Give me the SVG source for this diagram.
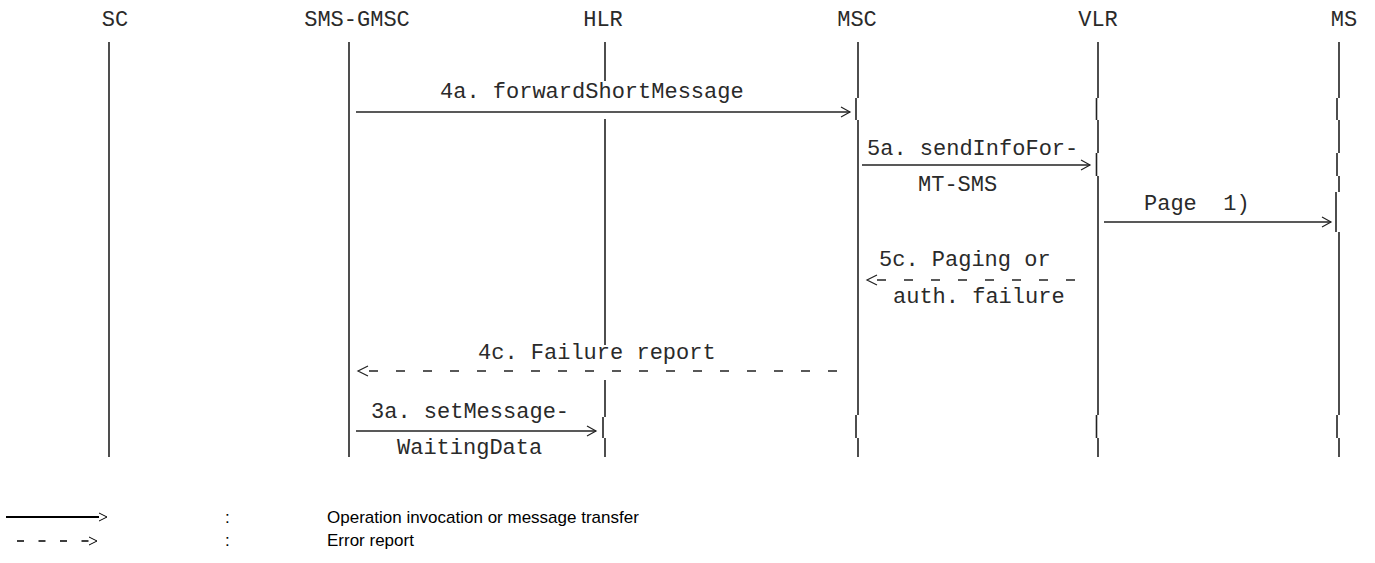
<svg xmlns="http://www.w3.org/2000/svg" width="1375" height="563" viewBox="0 0 1375 563">
<style>
.lbl{font-family:"Liberation Mono","Courier New",monospace;font-size:22px;fill:#2a2a2a}
.msg{font-family:"Liberation Mono","Courier New",monospace;font-size:22px;fill:#2a2a2a}
.leg{font-family:"Liberation Sans",Arial,sans-serif;font-size:17px;fill:#000}
.life{fill:none;stroke:#222;stroke-width:1.6}
.ln{fill:none;stroke:#222;stroke-width:1.3}
.dash{fill:none;stroke:#222;stroke-width:1.3;stroke-dasharray:9 18}
.head{fill:none;stroke:#222;stroke-width:1.2}
</style>
<rect width="1375" height="563" fill="#fff"/>
<g id="SC"><text class="lbl" x="115" y="26" text-anchor="middle">SC</text><path class="life" d="M109 42V457"/></g>
<g id="SMS-GMSC"><text class="lbl" x="357" y="26" text-anchor="middle">SMS-GMSC</text><path class="life" d="M349 42V457"/></g>
<g id="HLR"><text class="lbl" x="603" y="26" text-anchor="middle">HLR</text><path class="life" d="M605 42V81M605 119V345M605 380V417M603 417V438M605 438V457"/></g>
<g id="MSC"><text class="lbl" x="857" y="26" text-anchor="middle">MSC</text><path class="life" d="M858 42V98M856 98V120M858 120V415M856 415V438M858 438V457"/></g>
<g id="VLR"><text class="lbl" x="1098" y="26" text-anchor="middle">VLR</text><path class="life" d="M1098 42V98M1096.5 98V120M1098 120V153M1096.5 153V176M1098 176V415M1096.5 415V438M1098 438V457"/></g>
<g id="MS"><text class="lbl" x="1344" y="26" text-anchor="middle">MS</text><path class="life" d="M1339 42V98M1337 98V120M1339 120V153M1337 153V176M1339 176V192M1336 192V232M1339 232V415M1337 415V438M1339 438V457"/></g>
<g id="connectors">
<path class="ln" d="M356 112H850"/><path class="head" d="M841 107L850 112L841 117"/>
<path class="ln" d="M862 165H1090"/><path class="head" d="M1081 160L1090 165L1081 170"/>
<path class="ln" d="M1104 222H1331"/><path class="head" d="M1322 217L1331 222L1322 227"/>
<path class="dash" d="M877 280H1078"/><path class="head" d="M877 275L867 280L877 285"/>
<path class="dash" d="M369 371H838"/><path class="head" d="M368 366L358 371L368 376"/>
<path class="ln" d="M356 431H596"/><path class="head" d="M587 426L596 431L587 436"/>
</g>
<g id="labels">
<text class="msg" x="440" y="98">4a. forwardShortMessage</text>
<text class="msg" x="867" y="155">5a. sendInfoFor-</text>
<text class="msg" x="918" y="191">MT-SMS</text>
<text class="msg" x="1144" y="210" xml:space="preserve">Page  1)</text>
<text class="msg" x="879" y="266">5c. Paging or</text>
<text class="msg" x="893" y="303">auth. failure</text>
<text class="msg" x="478" y="359">4c. Failure report</text>
<text class="msg" x="371" y="418">3a. setMessage-</text>
<text class="msg" x="397" y="454">WaitingData</text>
</g>
<g id="legend">
<path fill="none" stroke="#000" stroke-width="1.8" d="M6 517H99"/><path fill="none" stroke="#000" stroke-width="1" d="M99 513L107 517L99 521"/>
<path fill="none" stroke="#000" stroke-width="1.5" stroke-dasharray="7 14.5" d="M17 541H96"/><path fill="none" stroke="#000" stroke-width="1" d="M89 537L97 541L89 545"/>
<text class="leg" x="225" y="523">:</text>
<text class="leg" x="225" y="546">:</text>
<text class="leg" x="327" y="523">Operation invocation or message transfer</text>
<text class="leg" x="327" y="546">Error report</text>
</g>
</svg>
